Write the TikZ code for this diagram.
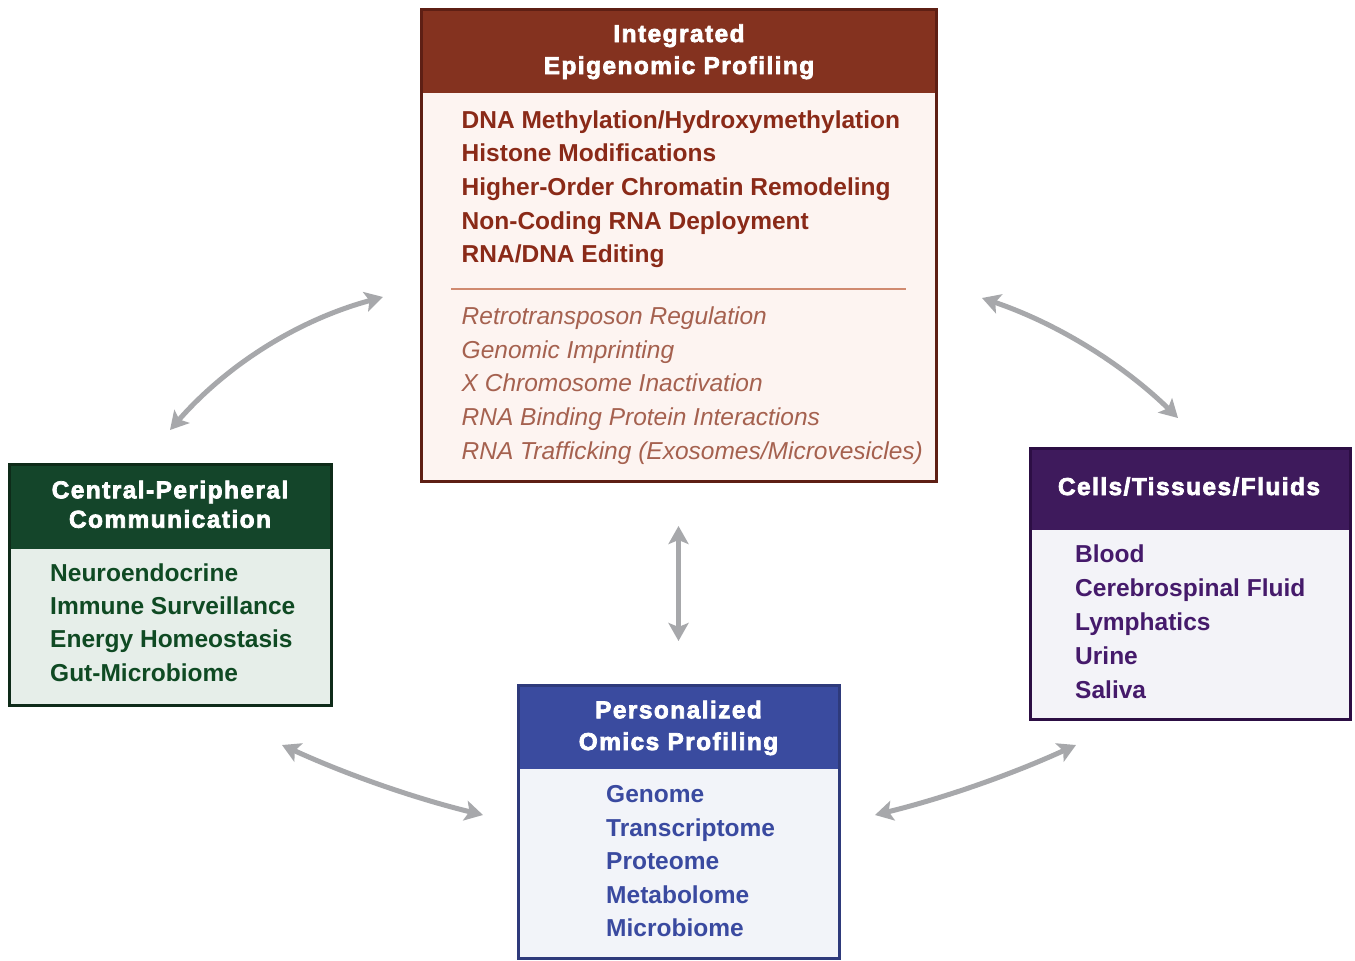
\documentclass[tikz,border=0pt]{standalone}
\usepackage{fontspec}
\setmainfont{Liberation Sans}
\newfontfamily\hdfont{Liberation Sans}[UprightFont=* Bold, LetterSpace=6, FakeBold=3]
\usetikzlibrary{arrows.meta}
\definecolor{arrowgray}{HTML}{A7A8AB}
\definecolor{rHead}{HTML}{84321F}
\definecolor{rBord}{HTML}{5E1F14}
\definecolor{rBody}{HTML}{FDF4F1}
\definecolor{rText}{HTML}{8A2A18}
\definecolor{rItal}{HTML}{A5614F}
\definecolor{rLine}{HTML}{D08A70}
\definecolor{gHead}{HTML}{14452A}
\definecolor{gBord}{HTML}{0E2B19}
\definecolor{gBody}{HTML}{E6EEE9}
\definecolor{gText}{HTML}{0F4A23}
\definecolor{pHead}{HTML}{3E1A5C}
\definecolor{pBord}{HTML}{2C0E44}
\definecolor{pBody}{HTML}{F3F3F8}
\definecolor{pText}{HTML}{451A6B}
\definecolor{bHead}{HTML}{3A4B9F}
\definecolor{bBord}{HTML}{2E3A7B}
\definecolor{bBody}{HTML}{F2F4F9}
\definecolor{bText}{HTML}{3A4AA0}
\tikzset{
  boxbody/.style={rectangle, inner sep=0pt, outer sep=0pt},
  boxhead/.style={rectangle, inner sep=0pt, outer sep=0pt, anchor=north},
  hdtext/.style={anchor=base, inner sep=0pt, text=white, font=\hdfont\fontsize{24.5}{28}\selectfont},
  itemtext/.style={anchor=base west, inner sep=0pt, font=\bfseries\fontsize{24.6}{28}\selectfont},
  italtext/.style={anchor=base west, inner sep=0pt, text=rItal, font=\itshape\fontsize{24.6}{28}\selectfont},
  link/.style={draw=arrowgray, line width=5bp,
    {Stealth[length=18bp,width=20bp,inset=4bp]}-{Stealth[length=18bp,width=20bp,inset=4bp]}},
}
\begin{document}
\begin{tikzpicture}[x=1bp,y=-1bp]
\useasboundingbox[fill=white] (0,0) rectangle (1355,960);

% ---------- Top box: Integrated Epigenomic Profiling ----------
\node[boxbody, fill=rBody, minimum width=515bp, minimum height=471bp] (epi) at (678.5,245.5) {};
\node[boxhead, fill=rHead, minimum width=515bp, minimum height=83bp] (epihead) at (epi.north) {};
\draw[rBord, line width=3bp] (epi.north west) rectangle (epi.south east);
\node[hdtext] (epih1) at (679,42) {Integrated};
\node[hdtext] (epih2) at (679,74) {Epigenomic Profiling};
\foreach \t [count=\i from 0] in {DNA Methylation/Hydroxymethylation, Histone Modifications, Higher-Order Chromatin Remodeling, Non-Coding RNA Deployment, RNA/DNA Editing}
  \node[itemtext, text=rText] (epib\i) at (461.5,128+33.7*\i) {\t};
\coordinate (sepL) at (451,289);
\coordinate (sepR) at (906,289);
\draw[rLine, line width=2bp] (sepL) -- (sepR);
\foreach \t [count=\i from 0] in {Retrotransposon Regulation, Genomic Imprinting, X Chromosome Inactivation, RNA Binding Protein Interactions, RNA Trafficking (Exosomes/Microvesicles)}
  \node[italtext] (epii\i) at (461.5,324.5+33.7*\i) {\t};

% ---------- Left box: Central-Peripheral Communication ----------
\node[boxbody, fill=gBody, minimum width=322.5bp, minimum height=241.5bp] (cpc) at (170.5,585) {};
\node[boxhead, fill=gHead, minimum width=322.5bp, minimum height=84.5bp] (cpchead) at (cpc.north) {};
\draw[gBord, line width=3bp] (cpc.north west) rectangle (cpc.south east);
\node[hdtext] (cpch1) at (170,498.3) {Central-Peripheral};
\node[hdtext] (cpch2) at (170,527.7) {Communication};
\foreach \t [count=\i from 0] in {Neuroendocrine, Immune Surveillance, Energy Homeostasis, Gut-Microbiome}
  \node[itemtext, text=gText] (cpcb\i) at (50,581+33.4*\i) {\t};

% ---------- Right box: Cells/Tissues/Fluids ----------
\node[boxbody, fill=pBody, minimum width=320bp, minimum height=271bp] (ctf) at (1190,583.5) {};
\node[boxhead, fill=pHead, minimum width=320bp, minimum height=82bp] (ctfhead) at (ctf.north) {};
\draw[pBord, line width=3bp] (ctf.north west) rectangle (ctf.south east);
\node[hdtext] (ctfh1) at (1189,495) {Cells/Tissues/Fluids};
\foreach \t [count=\i from 0] in {Blood, Cerebrospinal Fluid, Lymphatics, Urine, Saliva}
  \node[itemtext, text=pText] (ctfb\i) at (1075,562.7+33.9*\i) {\t};

% ---------- Bottom box: Personalized Omics Profiling ----------
\node[boxbody, fill=bBody, minimum width=321bp, minimum height=273bp] (omx) at (679,821.5) {};
\node[boxhead, fill=bHead, minimum width=321bp, minimum height=84bp] (omxhead) at (omx.north) {};
\draw[bBord, line width=3bp] (omx.north west) rectangle (omx.south east);
\node[hdtext] (omxh1) at (678.5,718.3) {Personalized};
\node[hdtext] (omxh2) at (678.5,750) {Omics Profiling};
\foreach \t [count=\i from 0] in {Genome, Transcriptome, Proteome, Metabolome, Microbiome}
  \node[itemtext, text=bText] (omxb\i) at (606,802.7+33.5*\i) {\t};

% ---------- Connectors ----------
\coordinate (tlA) at (383,297);
\coordinate (tlC1) at (298.6,319.8);
\coordinate (tlC2) at (227.6,364.2);
\coordinate (tlB) at (170,430);
\draw[link] (tlA) .. controls (tlC1) and (tlC2) .. (tlB);

\coordinate (trA) at (982,298);
\coordinate (trC1) at (1056.3,323.2);
\coordinate (trC2) at (1121.7,363.2);
\coordinate (trB) at (1178,418);
\draw[link] (trA) .. controls (trC1) and (trC2) .. (trB);

\coordinate (vA) at (678.5,526);
\coordinate (vB) at (678.5,641);
\draw[link] (vA) -- (vB);

\coordinate (blA) at (282,745);
\coordinate (blC1) at (346.8,774.6);
\coordinate (blC2) at (413.8,798);
\coordinate (blB) at (483,815);
\draw[link] (blA) .. controls (blC1) and (blC2) .. (blB);

\coordinate (brA) at (875,815);
\coordinate (brC1) at (944.2,798);
\coordinate (brC2) at (1011.2,774.6);
\coordinate (brB) at (1076,745);
\draw[link] (brA) .. controls (brC1) and (brC2) .. (brB);
\end{tikzpicture}
\end{document}
